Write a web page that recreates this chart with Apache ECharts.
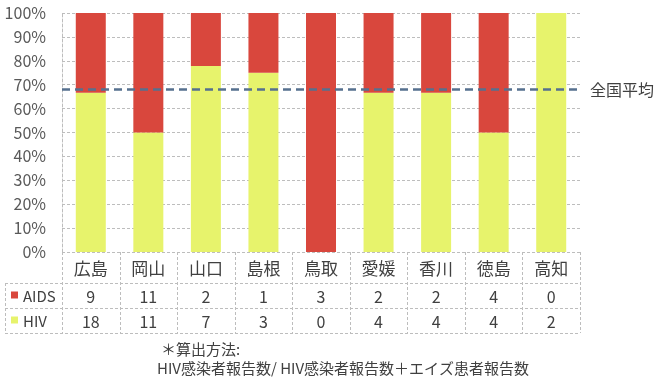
<!DOCTYPE html>
<html>
<head>
<meta charset="utf-8">
<script src="https://cdn.jsdelivr.net/npm/echarts@6/dist/echarts.min.js"></script>
<style>
  html, body { margin: 0; padding: 0; background: #fff; }
  #chart { width: 659px; height: 380px; }
</style>
</head>
<body>
<div id="chart"></div>
<script>
// Prefectures and report counts
const categories = ['広島', '岡山', '山口', '島根', '鳥取', '愛媛', '香川', '徳島', '高知'];
const aidsCounts = [9, 11, 2, 1, 3, 2, 2, 4, 0];
const hivCounts = [18, 11, 7, 3, 0, 4, 4, 4, 2];
const nationalAverage = 0.677;
const averageLabel = '全国平均';
const rowLabels = ['AIDS', 'HIV'];
const noteLines = ['＊算出方法:', 'HIV感染者報告数/ HIV感染者報告数＋エイズ患者報告数'];

const RED = '#d9473d';
const YELLOW = '#e7f36c';
const GRID = '#bdbdbd';
const TEXT = '#404040';
const FONT = '"Noto Sans CJK JP", "Noto Sans", sans-serif';

const totals = categories.map((_, i) => hivCounts[i] + aidsCounts[i]);
const hivShare = hivCounts.map((v, i) => totals[i] ? v / totals[i] : 0);
const aidsShare = aidsCounts.map((v, i) => totals[i] ? v / totals[i] : 0);

const chart = echarts.init(document.getElementById('chart'), null, { renderer: 'canvas' });

chart.setOption({
  animation: false,
  backgroundColor: '#fff',
  textStyle: { fontFamily: FONT },
  grid: { left: 62, right: 79, top: 13, bottom: 128, containLabel: false },
  xAxis: {
    type: 'category',
    data: categories,
    axisLine: { show: false },
    axisTick: { show: false },
    axisLabel: { show: false },
    splitLine: { show: false }
  },
  yAxis: {
    type: 'value',
    min: 0,
    max: 1,
    interval: 0.1,
    axisLine: { show: true, lineStyle: { color: GRID, type: [3, 2], width: 1 } },
    axisTick: { show: false },
    axisLabel: {
      formatter: v => Math.round(v * 100) + '%',
      color: '#595959',
      fontSize: 16,
      fontFamily: FONT,
      margin: 16
    },
    splitLine: { show: true, lineStyle: { color: GRID, type: [3, 2], width: 1 } }
  },
  series: [
    {
      name: 'HIV',
      type: 'bar',
      stack: 'share',
      barWidth: 30,
      data: hivShare,
      itemStyle: { color: YELLOW },
      markLine: {
        symbol: 'none',
        silent: true,
        lineStyle: { color: '#56708f', type: [8, 5], width: 2.5 },
        label: {
          show: true,
          position: 'end',
          formatter: averageLabel,
          color: TEXT,
          fontSize: 16,
          fontFamily: FONT,
          distance: 10
        },
        data: [{ yAxis: nationalAverage }]
      }
    },
    {
      name: 'AIDS',
      type: 'bar',
      stack: 'share',
      barWidth: 30,
      data: aidsShare,
      itemStyle: { color: RED }
    }
  ]
});

// Data table under the plot, aligned to the category axis
const centers = categories.map(c => chart.convertToPixel({ xAxisIndex: 0 }, c));
const band = centers[1] - centers[0];
const plotLeft = centers[0] - band / 2;
const plotRight = centers[centers.length - 1] + band / 2;
const tableTop = chart.convertToPixel({ yAxisIndex: 0 }, 0);
const tableLeft = 5;
const rowEdges = [tableTop, tableTop + 31, tableTop + 56, tableTop + 81];

const dashed = { stroke: GRID, lineWidth: 1, lineDash: [3, 2] };
const elements = [];
const hline = (x1, x2, y) => elements.push({ type: 'line', shape: { x1, y1: y + 0.5, x2, y2: y + 0.5 }, style: dashed, silent: true });
const vline = (x, y1, y2) => elements.push({ type: 'line', shape: { x1: x + 0.5, y1, x2: x + 0.5, y2 }, style: dashed, silent: true });

hline(plotLeft, plotRight, rowEdges[0]);
hline(tableLeft, plotRight, rowEdges[1]);
hline(tableLeft, plotRight, rowEdges[2]);
hline(tableLeft, plotRight, rowEdges[3]);
vline(tableLeft, rowEdges[1], rowEdges[3]);
for (let i = 0; i <= categories.length; i++) {
  vline(Math.round(plotLeft + i * band), rowEdges[0], rowEdges[3]);
}

const cellText = (text, x, y, size) => elements.push({
  type: 'text',
  x, y,
  silent: true,
  style: { text, fill: TEXT, font: size + 'px ' + FONT, textAlign: 'center', textVerticalAlign: 'middle' }
});

categories.forEach((c, i) => {
  cellText(c, centers[i], (rowEdges[0] + rowEdges[1]) / 2 + 1, 17);
  cellText(String(aidsCounts[i]), centers[i], (rowEdges[1] + rowEdges[2]) / 2 + 1, 16);
  cellText(String(hivCounts[i]), centers[i], (rowEdges[2] + rowEdges[3]) / 2 + 1, 16);
});

[RED, YELLOW].forEach((color, r) => {
  const mid = (rowEdges[r + 1] + rowEdges[r + 2]) / 2;
  elements.push({ type: 'rect', shape: { x: 11, y: mid - 4, width: 7, height: 7 }, style: { fill: color }, silent: true });
  elements.push({
    type: 'text', x: 23, y: mid + 1, silent: true,
    style: { text: rowLabels[r], fill: TEXT, font: '15px ' + FONT, textAlign: 'left', textVerticalAlign: 'middle' }
  });
});

noteLines.forEach((line, i) => {
  elements.push({
    type: 'text', x: i === 0 ? 161 : 157, y: 349 + i * 19, silent: true,
    style: { text: line, fill: TEXT, font: '15px ' + FONT, textAlign: 'left', textVerticalAlign: 'middle' }
  });
});

chart.setOption({ graphic: { elements } });
</script>
</body>
</html>
